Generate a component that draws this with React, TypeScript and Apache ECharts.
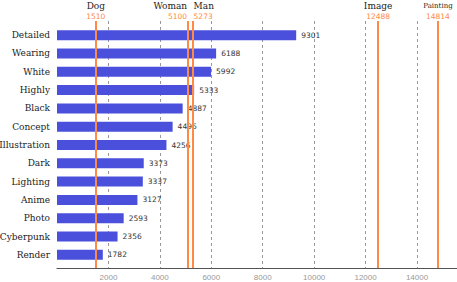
import React, { useEffect, useRef } from "react";
import * as echarts from "echarts";

const categories = ["Detailed", "Wearing", "White", "Highly", "Black", "Concept", "Illustration", "Dark", "Lighting", "Anime", "Photo", "Cyberpunk", "Render"];
const counts = [9301, 6188, 5992, 5333, 4887, 4496, 4256, 3373, 3337, 3127, 2593, 2356, 1782];
const refNames = ["Dog", "Woman", "Man", "Image", "Painting"];
const refValues = [1510, 5100, 5273, 12488, 14814];
const refNameSizes = [9, 9, 9, 9, 7];
const refAligns = ["center", "right", "left", "center", "center"];
const tickInterval = 2000;

export default function App() {
  const ref = useRef<HTMLDivElement>(null);
  useEffect(() => {
    if (!ref.current) return;
    const chart = echarts.init(ref.current, null, { renderer: "svg" });
    const xMax = Math.max(...refValues) * 1.05;
    const serif = "DejaVu Serif";
    chart.setOption({
      animation: false,
      grid: [
        { left: 57, right: 0, top: 26, bottom: 18, containLabel: false, outerBoundsMode: "none" },
        { left: 57, right: 0, top: 21, bottom: 14, containLabel: false, outerBoundsMode: "none" },
      ],
      xAxis: [
        { gridIndex: 0, type: "value", min: 0, max: xMax, interval: tickInterval, show: false },
        {
          gridIndex: 1, type: "value", min: 0, max: xMax, interval: tickInterval,
          axisLine: { show: true, lineStyle: { color: "#555", width: 1.2 } },
          axisTick: { show: false },
          axisLabel: {
            showMinLabel: false, showMaxLabel: false, color: "#999", fontFamily: "Liberation Sans", fontSize: 8, margin: 5,
            formatter: (v: number) => String(v),
          },
          splitLine: { show: true, showMinLine: false, showMaxLine: false, lineStyle: { color: "#999", type: [3, 3], width: 1 } },
        },
      ],
      yAxis: [
        {
          gridIndex: 0, type: "category", data: categories, inverse: true,
          axisLine: { show: false }, axisTick: { show: false }, splitLine: { show: false },
          axisLabel: { color: "#222", fontFamily: serif, fontSize: 9, margin: 7 },
        },
        { gridIndex: 1, type: "value", min: 0, max: 1, show: false },
      ],
      series: [
        {
          type: "bar", xAxisIndex: 0, yAxisIndex: 0, data: counts, barWidth: 10,
          itemStyle: { color: "#4a50dc" },
          label: { show: true, position: "right", distance: 5, color: "#333", fontFamily: "DejaVu Sans", fontSize: 7.5 },
        },
        {
          type: "line", xAxisIndex: 1, yAxisIndex: 1, data: [[0, 0]], showSymbol: false, silent: true,
          lineStyle: { opacity: 0 },
          markLine: {
            silent: true, symbol: "none",
            lineStyle: { color: "#ff8a45", width: 2, type: "solid" },
            data: refValues.map((v, i) => ({
              xAxis: v, name: refNames[i],
              label: {
                show: true, position: "end", distance: 0,
                align: refAligns[i],
                offset: [refAligns[i] === "right" ? -1 : refAligns[i] === "left" ? 1 : 0, 0],
                formatter: "{n|" + refNames[i] + "}\n{v|" + v + "}",
                rich: {
                  n: { fontFamily: serif, fontSize: refNameSizes[i], color: "#222", lineHeight: 11, align: refAligns[i] },
                  v: { fontFamily: "DejaVu Sans", fontSize: 7.5, color: "#ff8a45", lineHeight: 10, align: refAligns[i] },
                },
              },
            })),
          },
        },
      ],
    });
    return () => chart.dispose();
  }, []);
  return <div ref={ref} style={{ width: 457, height: 282, position: "absolute", left: 0, top: 0 }} />;
}
